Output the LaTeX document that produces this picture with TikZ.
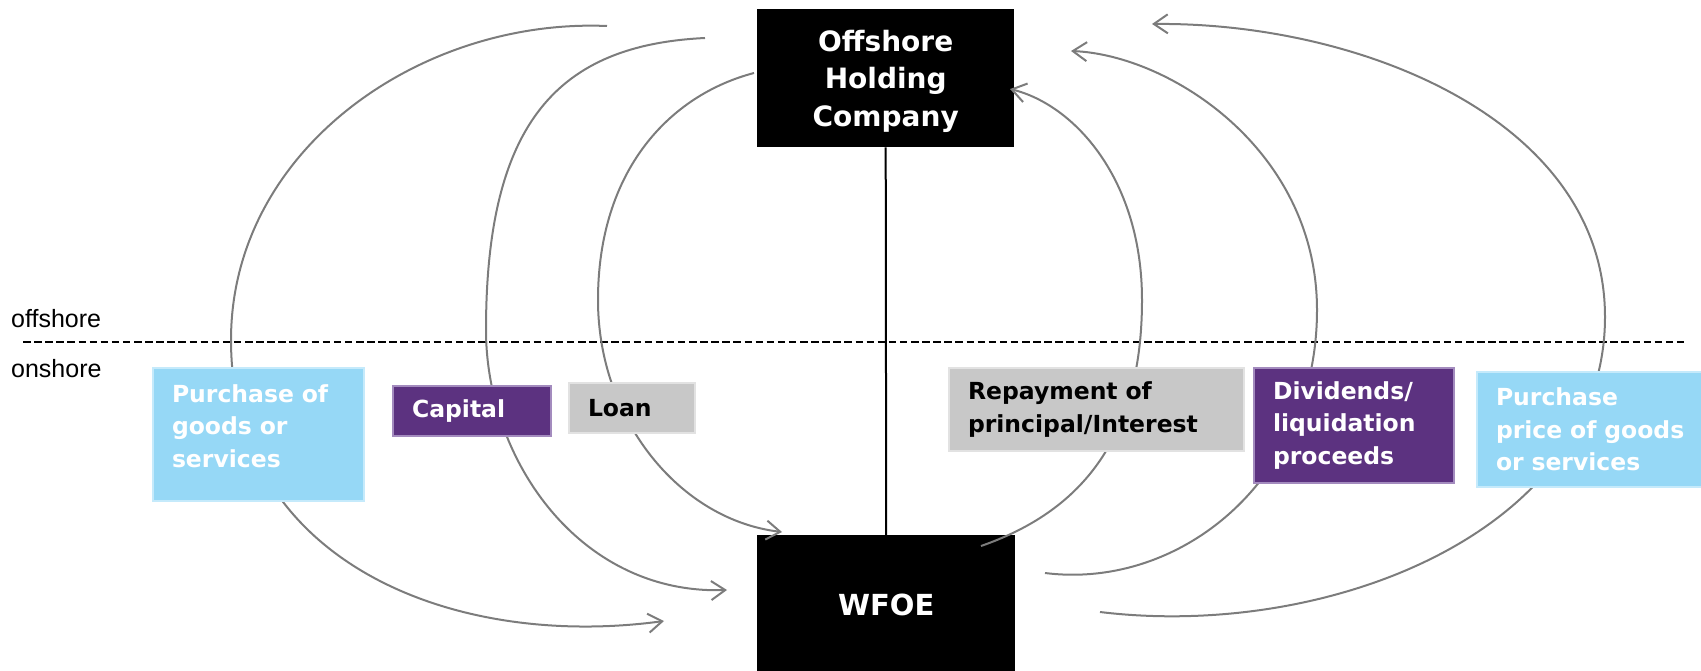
\documentclass[tikz,border=0pt]{standalone}
\usepackage{fontspec}
\setmainfont{DejaVu Sans}
\newfontfamily\sidefont{Liberation Sans}
\usetikzlibrary{arrows.meta}

\definecolor{flowgray}{RGB}{124,124,124}
\definecolor{skyfill}{RGB}{150,216,246}
\definecolor{skyline}{RGB}{197,234,251}
\definecolor{plumfill}{RGB}{92,50,128}
\definecolor{plumline}{RGB}{163,139,190}
\definecolor{greyfill}{RGB}{200,200,200}
\definecolor{greyline}{RGB}{226,226,226}

\begin{document}
\begin{tikzpicture}[x=1pt,y=-1pt,
  flowarc/.style={draw=flowgray,line width=2pt,-{Straight Barb[length=14pt,width=19pt]}},
  entity/.style={anchor=north west,fill=black,text=white,inner sep=0pt,align=center,font=\fontsize{28}{37.5}\selectfont\bfseries},
  labelbox/.style={anchor=north west,line width=2pt,inner xsep=19pt,inner ysep=0pt,align=left,font=\fontsize{23.5}{32.5}\selectfont\bfseries},
  boxsky/.style={labelbox,fill=skyfill,draw=skyline,text=white},
  boxplum/.style={labelbox,fill=plumfill,draw=plumline,text=white},
  boxgrey/.style={labelbox,fill=greyfill,draw=greyline,text=black},
  sidetext/.style={anchor=base west,inner sep=0pt,font=\sidefont\fontsize{25}{30}\selectfont}]
 \useasboundingbox (0,0) rectangle (1701,671);

 \node[entity,text width=257pt,minimum height=138pt,text depth=75pt] (hold) at (757,9) {Offshore\\Holding\\Company};
 \node[entity,minimum width=258pt,minimum height=140pt,font=\fontsize{29}{37}\selectfont\bfseries] (wfoe) at (757,535) {WFOE};
 \draw[line width=2pt] (hold.south) -- (wfoe.north);

 \draw[line width=2pt,dash pattern=on 7.5pt off 3.6pt] (23,342) -- (1688,342);
 \node[sidetext] (offsh) at (11,327) {offshore};
 \node[sidetext] (onsh) at (11,377) {onshore};

 \coordinate (goods-a) at (607,26);
 \coordinate (goods-m) at (231,340);
 \coordinate (goods-b) at (664,621);
 \coordinate (capital-a) at (705,38);
 \coordinate (capital-m) at (486,330);
 \coordinate (capital-b) at (727,590);
 \coordinate (loan-a) at (754,73);
 \coordinate (loan-m) at (598,300);
 \coordinate (loan-b) at (782,532);
 \coordinate (repay-a) at (981,546);
 \coordinate (repay-m) at (1142,300);
 \coordinate (repay-b) at (1010,89);
 \coordinate (divid-a) at (1045,573);
 \coordinate (divid-m) at (1317,310);
 \coordinate (divid-b) at (1071,51);
 \coordinate (price-a) at (1100,612);
 \coordinate (price-m) at (1605,317);
 \coordinate (price-b) at (1152,24);

 \draw[flowarc] (goods-a) .. controls (420,18) and (231,150) .. (goods-m) .. controls (231,560) and (450,650) .. (goods-b);
 \draw[flowarc] (capital-a) .. controls (560,45) and (486,120) .. (capital-m) .. controls (486,460) and (580,595) .. (capital-b);
 \draw[flowarc] (loan-a) .. controls (670,95) and (598,170) .. (loan-m) .. controls (598,420) and (680,520) .. (loan-b);
 \draw[flowarc] (repay-a) .. controls (1070,515) and (1142,450) .. (repay-m) .. controls (1142,180) and (1075,105) .. (repay-b);
 \draw[flowarc] (divid-a) .. controls (1180,590) and (1317,480) .. (divid-m) .. controls (1317,150) and (1170,55) .. (divid-b);
 \draw[flowarc] (price-a) .. controls (1330,640) and (1605,530) .. (price-m) .. controls (1605,120) and (1360,22) .. (price-b);

 \node[boxsky,text width=173pt,minimum height=133pt,text depth=82pt] (goods) at (152,367) {Purchase of\\goods or\\services};
 \node[boxplum,text width=120pt,minimum height=50pt] (capital) at (392,385) {Capital};
 \node[boxgrey,text width=88pt,minimum height=50pt] (loan) at (568,382) {Loan};
 \node[boxgrey,text width=257pt,minimum height=83pt] (repay) at (948,367) {Repayment of\\principal/Interest};
 \node[boxplum,text width=162pt,minimum height=115pt] (divid) at (1253,367) {Dividends/\\liquidation\\proceeds};
 \node[boxsky,text width=202pt,minimum height=115pt] (price) at (1476,371) {Purchase\\price of goods\\or services};
\end{tikzpicture}
\end{document}
